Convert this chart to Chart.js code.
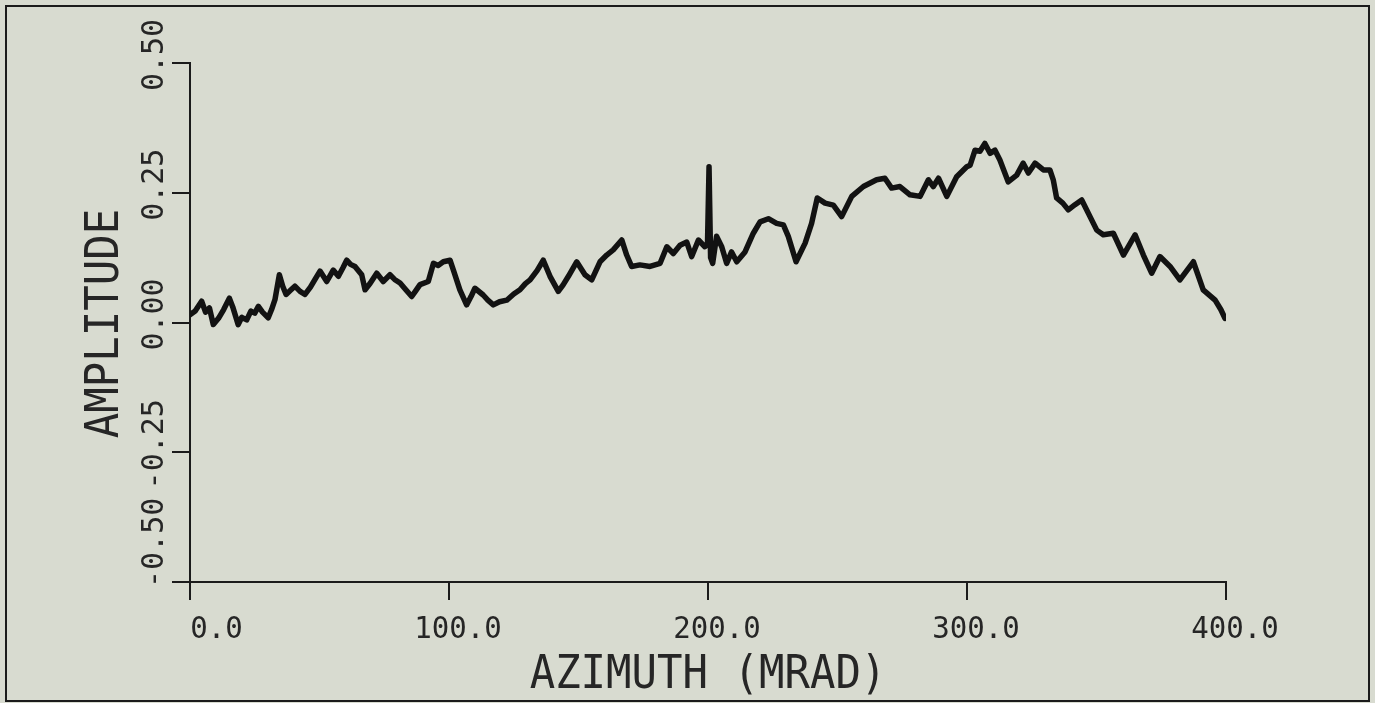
<!DOCTYPE html>
<html>
<head>
<meta charset="utf-8">
<title>Amplitude vs Azimuth</title>
<script src="https://cdn.jsdelivr.net/npm/chart.js@4.4.1/dist/chart.umd.min.js"></script>
<style>
  html, body { margin: 0; padding: 0; background: #d8dbd0; }
  #wrap { width: 1375px; height: 703px; }
</style>
</head>
<body>
<div id="wrap"><canvas id="plot" width="1375" height="703"></canvas></div>
<script>
// Azimuth samples (mrad) and measured amplitude
const azimuth = [
  0, 2, 4.5, 6, 7.5, 9, 11, 13, 15.2, 16.5, 18.6, 20, 21.9, 23.5, 25, 26.4, 28, 30.2, 31.5, 32.8,
  34.5, 35.8, 37.1, 38.8, 40.5, 42.5, 44.4, 46.5, 48.5, 50.2, 52.8, 55.3, 57.3, 59, 60.5, 62, 63.7, 66.3, 67.6, 69.5,
  72.1, 74.6, 77.2, 79, 81.1, 83.5, 85.6, 87, 88.8, 92, 94, 95.8, 97.8, 100.4, 101.7, 104.2, 106.8, 108.5, 110, 113.2,
  115, 117.1, 119.5, 122.3, 125, 127.4, 129.5, 131.3, 134, 136.4, 139, 142.2, 144, 146.1, 149.3, 152.5, 155.1, 158.3, 160.9, 163.4,
  166.7, 168.6, 170.5, 173.7, 177.6, 181.5, 184.1, 186.6, 189.2, 191.8, 193.7, 196.3, 198.8, 199.8, 200.4, 201.0, 201.8, 203.3, 205.3, 207.2,
  209.1, 211.1, 214.3, 217.5, 220.1, 223.3, 226.5, 229.1, 231, 234, 237.5, 240, 242.2, 245.2, 248.4, 251.6, 255.5, 260, 265.1, 268.3,
  270.9, 274.1, 278, 281.9, 285.1, 287, 289, 292.2, 296, 299.9, 301.2, 303.1, 305, 306.9, 308.9, 310.8, 312.7, 315.9, 319.2, 321.7,
  323.7, 326.3, 329.5, 332, 333.3, 334.6, 337, 339.1, 341.7, 344.3, 347.5, 350.1, 352.6, 356.5, 360.4, 364.9, 368.1, 371.3, 374.5, 378.4,
  382.2, 387.4, 391.2, 395.8, 398, 399.6
];
const amplitude = [
  0.015, 0.022, 0.041, 0.020, 0.028, -0.004, 0.008, 0.025, 0.047, 0.030, -0.004, 0.010, 0.005, 0.022, 0.018, 0.031, 0.020, 0.009, 0.025, 0.044,
  0.092, 0.070, 0.054, 0.062, 0.070, 0.060, 0.054, 0.068, 0.085, 0.099, 0.079, 0.101, 0.089, 0.105, 0.120, 0.112, 0.108, 0.092, 0.063, 0.075,
  0.095, 0.079, 0.092, 0.083, 0.076, 0.062, 0.050, 0.060, 0.073, 0.079, 0.114, 0.110, 0.117, 0.120, 0.101, 0.063, 0.034, 0.050, 0.066, 0.053,
  0.043, 0.034, 0.040, 0.043, 0.055, 0.063, 0.075, 0.082, 0.100, 0.120, 0.089, 0.060, 0.072, 0.089, 0.117, 0.092, 0.082, 0.117, 0.130, 0.140,
  0.159, 0.130, 0.108, 0.111, 0.108, 0.114, 0.146, 0.133, 0.149, 0.155, 0.127, 0.159, 0.146, 0.150, 0.300, 0.125, 0.114, 0.166, 0.146, 0.114,
  0.136, 0.117, 0.136, 0.172, 0.194, 0.200, 0.191, 0.188, 0.166, 0.117, 0.153, 0.191, 0.240, 0.230, 0.226, 0.204, 0.243, 0.262, 0.275, 0.278,
  0.259, 0.262, 0.246, 0.243, 0.275, 0.262, 0.278, 0.243, 0.281, 0.300, 0.303, 0.332, 0.330, 0.345, 0.326, 0.332, 0.313, 0.271, 0.284, 0.307,
  0.288, 0.307, 0.294, 0.294, 0.275, 0.240, 0.230, 0.217, 0.227, 0.236, 0.204, 0.178, 0.169, 0.172, 0.130, 0.169, 0.130, 0.095, 0.127, 0.108,
  0.082, 0.117, 0.063, 0.043, 0.025, 0.008
];

// Axis ticks and their printed labels
const xTickValues = [0, 100, 200, 300, 400];
const xTickLabels = ['0.0', '100.0', '200.0', '300.0', '400.0'];
const yTickValues = [-0.5, -0.25, 0, 0.25, 0.5];
const yTickLabels = ['-0.50', '-0.25', '0.00', '0.25', '0.50'];
const xTitle = 'AZIMUTH (MRAD)';
const yTitle = 'AMPLITUDE';

const INK = '#1b1b1b';
const TEXT_INK = '#262626';
const PAPER = '#d8dbd0';
const MONO = '"DejaVu Sans Mono", "Liberation Mono", monospace';

// Draws text with an optional horizontal squeeze and rotation
function drawText(ctx, text, x, y, opts) {
  ctx.save();
  ctx.translate(x, y);
  if (opts.rotate) ctx.rotate(opts.rotate);
  ctx.scale(opts.squeeze || 1, 1);
  ctx.font = opts.font;
  ctx.textAlign = opts.align || 'center';
  ctx.textBaseline = 'alphabetic';
  ctx.fillStyle = TEXT_INK;
  ctx.fillText(text, 0, 0);
  ctx.restore();
}

const paperPlugin = {
  id: 'paper',
  beforeDraw(chart) {
    const { ctx, width, height } = chart;
    ctx.save();
    ctx.fillStyle = PAPER;
    ctx.fillRect(0, 0, width, height);
    ctx.strokeStyle = INK;
    ctx.lineWidth = 2;
    ctx.strokeRect(6, 6, width - 12, height - 8);
    ctx.restore();
  }
};

const labelPlugin = {
  id: 'plotterLabels',
  afterDraw(chart) {
    const { ctx, chartArea } = chart;
    const xs = chart.scales.x;
    const ys = chart.scales.y;
    const tickFont = '30px ' + MONO;
    const titleFont = '46px ' + MONO;

    // x tick labels, printed right-justified in a five-character field
    xTickValues.forEach((v, i) => {
      const label = xTickLabels[i].padStart(5, ' ');
      drawText(ctx, label, xs.getPixelForValue(v) + 9, chartArea.bottom + 56, { font: tickFont, squeeze: 0.97 });
    });

    // y tick labels, written upward along the axis
    ctx.save();
    ctx.font = tickFont;
    yTickValues.forEach((v, i) => {
      const label = yTickLabels[i];
      const w = ctx.measureText(label).width;
      let cy = ys.getPixelForValue(v) - 8;
      const lowest = chartArea.bottom + 6;
      if (cy + w / 2 > lowest) cy = lowest - w / 2;
      drawText(ctx, label, chartArea.left - 27, cy, { font: tickFont, rotate: -Math.PI / 2 });
    });
    ctx.restore();

    // axis titles
    const midX = (chartArea.left + chartArea.right) / 2;
    const midY = (chartArea.top + chartArea.bottom) / 2;
    drawText(ctx, xTitle, midX, chartArea.bottom + 106, { font: titleFont, squeeze: 0.92 });
    drawText(ctx, yTitle, chartArea.left - 72, midY + 1, { font: titleFont, squeeze: 0.92, rotate: -Math.PI / 2 });
  }
};

const points = azimuth.map((a, i) => ({ x: a, y: amplitude[i] }));

const axisLine = { display: true, color: INK, width: 2 };
const tickMarks = {
  drawOnChartArea: false,
  drawTicks: true,
  tickLength: 18,
  color: INK,
  lineWidth: 2
};

new Chart(document.getElementById('plot'), {
  type: 'line',
  data: {
    datasets: [{
      data: points,
      borderColor: '#121212',
      borderWidth: 5.5,
      borderJoinStyle: 'round',
      borderCapStyle: 'round',
      pointRadius: 0,
      tension: 0,
      fill: false
    }]
  },
  options: {
    responsive: false,
    animation: false,
    devicePixelRatio: 1,
    layout: { padding: { left: 0, top: 63, right: 149, bottom: 0 } },
    plugins: {
      legend: { display: false },
      tooltip: { enabled: false },
      title: { display: false }
    },
    scales: {
      x: {
        type: 'linear',
        min: 0,
        max: 400,
        afterBuildTicks(scale) { scale.ticks = xTickValues.map(v => ({ value: v })); },
        afterFit(scale) { scale.height = 121; },
        ticks: { display: false },
        grid: tickMarks,
        border: axisLine
      },
      y: {
        type: 'linear',
        min: -0.5,
        max: 0.5,
        afterBuildTicks(scale) { scale.ticks = yTickValues.map(v => ({ value: v })); },
        afterFit(scale) { scale.width = 190; },
        ticks: { display: false },
        grid: tickMarks,
        border: axisLine
      }
    }
  },
  plugins: [paperPlugin, labelPlugin]
});
</script>
</body>
</html>
